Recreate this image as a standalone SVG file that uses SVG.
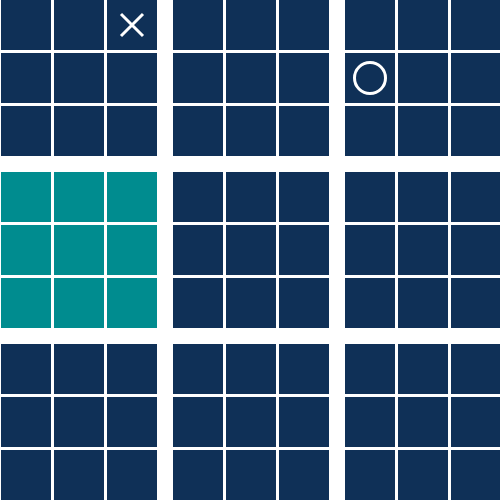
<svg xmlns="http://www.w3.org/2000/svg" width="500" height="500" viewBox="0 0 500 500">
<defs>
<style>
.n{fill:#0f3057}
.t{fill:#008c8f}
.m{stroke:#fff;stroke-width:3;fill:none}
</style>
<g id="board">
<rect x="0" y="0" width="50" height="50"/>
<rect x="53" y="0" width="50" height="50"/>
<rect x="106" y="0" width="50" height="50"/>
<rect x="0" y="53" width="50" height="50"/>
<rect x="53" y="53" width="50" height="50"/>
<rect x="106" y="53" width="50" height="50"/>
<rect x="0" y="106" width="50" height="50"/>
<rect x="53" y="106" width="50" height="50"/>
<rect x="106" y="106" width="50" height="50"/>
</g>
</defs>
<rect width="500" height="500" fill="#fff"/>
<g id="b00" class="n"><use href="#board" x="1" y="0"/></g>
<g id="b01" class="n"><use href="#board" x="173" y="0"/></g>
<g id="b02" class="n"><use href="#board" x="345" y="0"/></g>
<g id="b10" class="t"><use href="#board" x="1" y="172"/></g>
<g id="b11" class="n"><use href="#board" x="173" y="172"/></g>
<g id="b12" class="n"><use href="#board" x="345" y="172"/></g>
<g id="b20" class="n"><use href="#board" x="1" y="344"/></g>
<g id="b21" class="n"><use href="#board" x="173" y="344"/></g>
<g id="b22" class="n"><use href="#board" x="345" y="344"/></g>
<g id="markX"><path class="m" d="M121 14L143 36M143 14L121 36"/></g>
<g id="markO"><circle class="m" cx="370" cy="78" r="15.5"/></g>
</svg>
